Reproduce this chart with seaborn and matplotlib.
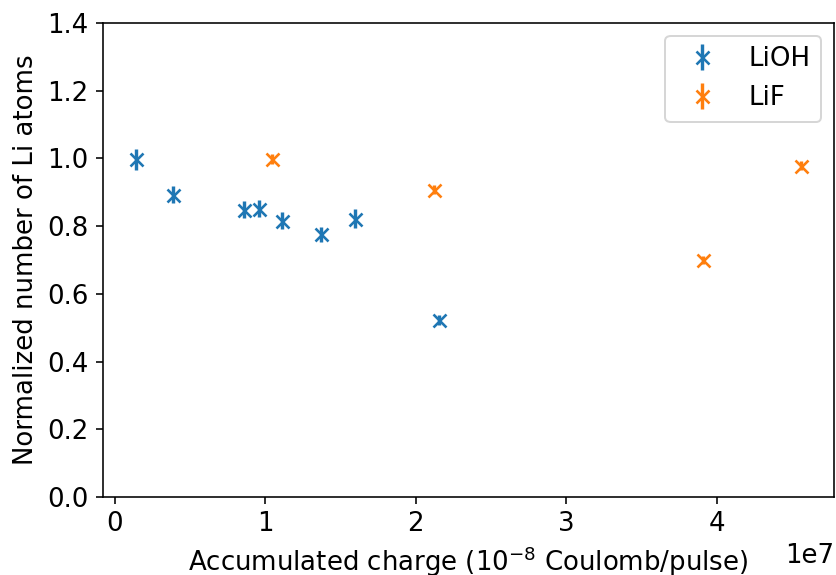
import matplotlib
matplotlib.use("Agg")
import matplotlib.pyplot as plt
import seaborn as sns
import numpy as np

# Data (x in units of 1e7)
lioh_x = [0.14e7, 0.386e7, 0.859e7, 0.958e7, 1.111e7, 1.371e7, 1.597e7, 2.156e7]
lioh_y = [0.997, 0.893, 0.848, 0.851, 0.816, 0.776, 0.822, 0.522]
lioh_err = [0.03, 0.025, 0.025, 0.025, 0.025, 0.022, 0.028, 0.015]

lif_x = [1.047e7, 2.123e7, 3.907e7, 4.56e7]
lif_y = [0.998, 0.908, 0.700, 0.979]
lif_err = [0.014, 0.013, 0.012, 0.014]

series_names = ["LiOH", "LiF"]

plt.rcParams.update(matplotlib.rcParamsDefault)
plt.rcParams["font.size"] = 13.0
colors = sns.color_palette("tab10")

fig = plt.figure(figsize=(836 / 144, 575 / 144), dpi=144)
ax = fig.add_axes([0.1228, 0.1357, 0.9976 - 0.1228, 0.96 - 0.1357])

ax.errorbar(lioh_x, lioh_y, yerr=lioh_err, fmt="x", color=colors[0],
            markersize=6.5, markeredgewidth=1.3, elinewidth=1.7, label=series_names[0])
ax.errorbar(lif_x, lif_y, yerr=lif_err, fmt="x", color=colors[1],
            markersize=6.5, markeredgewidth=1.3, elinewidth=1.7, label=series_names[1])

ax.set_ylim(0, 1.4)
ax.set_xlabel("Accumulated charge ($10^{-8}$ Coulomb/pulse)")
ax.set_ylabel("Normalized number of Li atoms")
ax.legend(loc="upper right")

fig.savefig("out.png", dpi=144)
